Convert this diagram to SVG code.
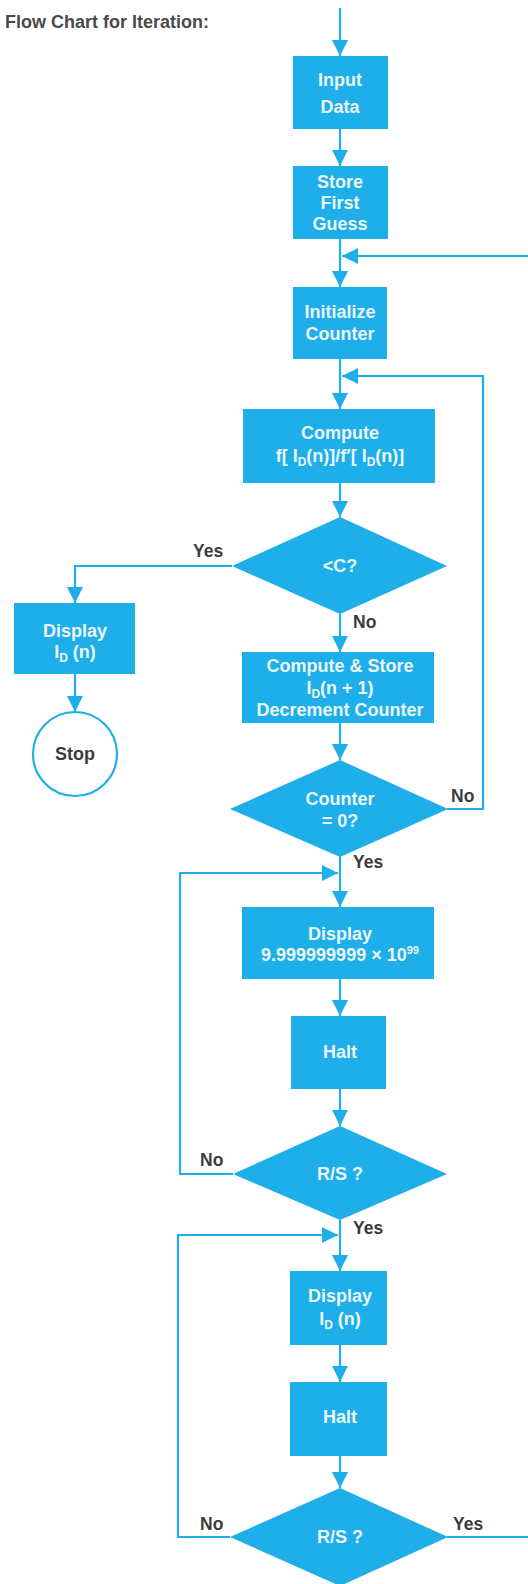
<svg xmlns="http://www.w3.org/2000/svg" width="528" height="1584" viewBox="0 0 528 1584">
<style>
.box{fill:#1eaee9;}
.stop{fill:#ffffff;stroke:#1eaee9;stroke-width:2.2;}
.t{font-family:"Liberation Sans",Arial,sans-serif;font-weight:bold;font-size:18px;fill:#eaf7fd;text-anchor:middle;}
.lbl{font-family:"Liberation Sans",Arial,sans-serif;font-weight:bold;font-size:17.5px;fill:#3c3c3c;}
.title{font-family:"Liberation Sans",Arial,sans-serif;font-weight:bold;font-size:18px;fill:#4a4a4a;}
.c{fill:none;stroke:#1eaee9;stroke-width:2.2;}
.a{marker-end:url(#ah);}
</style>
<defs>
<marker id="ah" markerUnits="userSpaceOnUse" viewBox="0 0 16 16" markerWidth="16" markerHeight="16" refX="16" refY="8" orient="auto">
<path d="M0,0 L16,8 L0,16 z" fill="#1eaee9"/>
</marker>
</defs>
<rect width="528" height="1584" fill="#ffffff"/>
<text class="title" x="5" y="28">Flow Chart for Iteration:</text>

<g id="connectors">
<path class="c a" d="M340,8 V56"/>
<path class="c a" d="M340,129 V166"/>
<path class="c a" d="M340,239 V287"/>
<path class="c a" d="M447,1537 H532 V256 H342"/>
<path class="c a" d="M340,359 V409"/>
<path class="c a" d="M447,809 H483 V376 H342"/>
<path class="c a" d="M340,483 V517"/>
<path class="c a" d="M232,566 H75 V603"/>
<path class="c a" d="M75,674 V712"/>
<path class="c a" d="M340,614 V652"/>
<path class="c a" d="M340,723 V760"/>
<path class="c a" d="M340,857 V907"/>
<path class="c a" d="M233,1174 H180 V873 H338"/>
<path class="c a" d="M340,979 V1016"/>
<path class="c a" d="M340,1089 V1126"/>
<path class="c a" d="M340,1220 V1271"/>
<path class="c a" d="M230,1537 H178 V1235 H338"/>
<path class="c a" d="M340,1345 V1382"/>
<path class="c a" d="M340,1456 V1488"/>
</g>

<g id="input-data">
<rect class="box" x="293" y="56" width="95" height="73"/>
<text class="t" x="340" y="86">Input</text>
<text class="t" x="340" y="113">Data</text>
</g>

<g id="store-first-guess">
<rect class="box" x="293" y="166" width="95" height="73"/>
<text class="t" x="340" y="188">Store</text>
<text class="t" x="340" y="209">First</text>
<text class="t" x="340" y="230">Guess</text>
</g>

<g id="initialize-counter">
<rect class="box" x="293" y="287" width="94" height="72"/>
<text class="t" x="340" y="318">Initialize</text>
<text class="t" x="340" y="340">Counter</text>
</g>

<g id="compute">
<rect class="box" x="243" y="409" width="192" height="74"/>
<text class="t" x="340" y="439">Compute</text>
<text class="t" x="340" y="462">f[ I<tspan font-size="12" dy="4">D</tspan><tspan dy="-4">(n)]/f′[ I</tspan><tspan font-size="12" dy="4">D</tspan><tspan dy="-4">(n)]</tspan></text>
</g>

<g id="test-c">
<polygon class="box" points="340,517 447,566 340,614 232,566"/>
<text class="t" x="340" y="572">&lt;C?</text>
</g>
<text class="lbl" x="193" y="557">Yes</text>
<text class="lbl" x="353" y="628">No</text>

<g id="display-left">
<rect class="box" x="14" y="603" width="121" height="71"/>
<text class="t" x="75" y="637">Display</text>
<text class="t" x="75" y="658">I<tspan font-size="12" dy="4">D</tspan><tspan dy="-4"> (n)</tspan></text>
</g>

<g id="stop">
<circle class="stop" cx="75" cy="754" r="42"/>
<text class="t" x="75" y="760" style="fill:#3c3c3c">Stop</text>
</g>

<g id="compute-store">
<rect class="box" x="242" y="652" width="192" height="71"/>
<text class="t" x="340" y="672">Compute &amp; Store</text>
<text class="t" x="340" y="694">I<tspan font-size="12" dy="4">D</tspan><tspan dy="-4">(n + 1)</tspan></text>
<text class="t" x="340" y="716">Decrement Counter</text>
</g>

<g id="counter-zero">
<polygon class="box" points="340,760 448,809 340,857 230,809"/>
<text class="t" x="340" y="805">Counter</text>
<text class="t" x="340" y="827">=  0?</text>
</g>
<text class="lbl" x="451" y="802">No</text>
<text class="lbl" x="353" y="868">Yes</text>

<g id="display-max">
<rect class="box" x="242" y="907" width="192" height="72"/>
<text class="t" x="340" y="940">Display</text>
<text class="t" x="340" y="961">9.999999999  ×  10<tspan font-size="11" dy="-7">99</tspan></text>
</g>

<g id="halt-1">
<rect class="box" x="291" y="1016" width="95" height="73"/>
<text class="t" x="340" y="1058">Halt</text>
</g>

<g id="rs-1">
<polygon class="box" points="340,1126 447,1174 340,1220 233,1174"/>
<text class="t" x="340" y="1180">R/S ?</text>
</g>
<text class="lbl" x="200" y="1166">No</text>
<text class="lbl" x="353" y="1234">Yes</text>

<g id="display-id">
<rect class="box" x="290" y="1271" width="97" height="74"/>
<text class="t" x="340" y="1302">Display</text>
<text class="t" x="340" y="1325">I<tspan font-size="12" dy="4">D</tspan><tspan dy="-4"> (n)</tspan></text>
</g>

<g id="halt-2">
<rect class="box" x="290" y="1382" width="97" height="74"/>
<text class="t" x="340" y="1423">Halt</text>
</g>

<g id="rs-2">
<polygon class="box" points="340,1488 448,1537 340,1586 230,1537"/>
<text class="t" x="340" y="1543">R/S ?</text>
</g>
<text class="lbl" x="200" y="1530">No</text>
<text class="lbl" x="453" y="1530">Yes</text>
</svg>
